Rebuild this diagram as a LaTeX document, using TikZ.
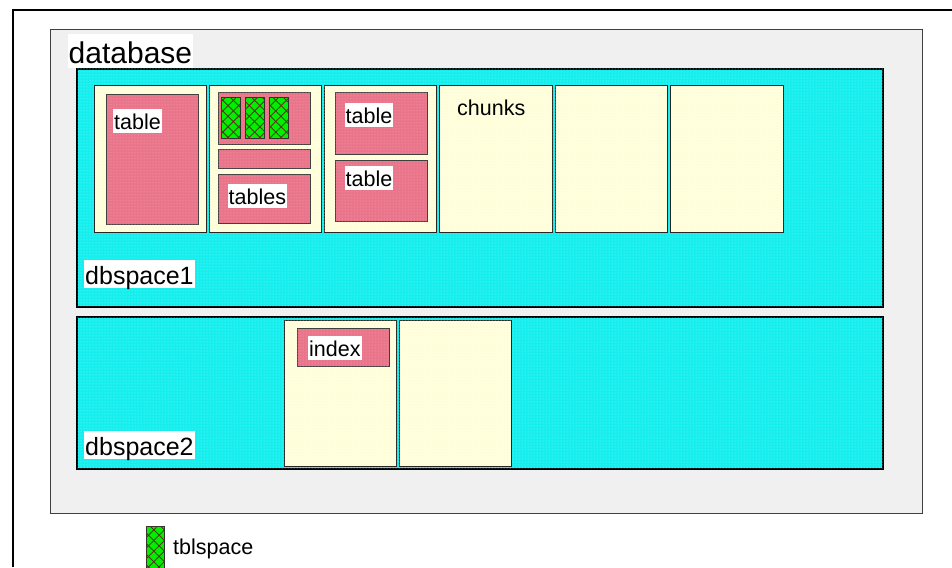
\documentclass[tikz,border=0pt]{standalone}
\usepackage{fontspec}
\setmainfont{Liberation Sans}
\usetikzlibrary{patterns,patterns.meta}
\definecolor{dbgray}{RGB}{240,240,240}
\definecolor{dscyan}{RGB}{22,238,238}
\definecolor{dsdot}{RGB}{120,250,250}
\definecolor{chunky}{RGB}{255,255,224}
\definecolor{chunkdot}{RGB}{250,245,170}
\definecolor{tpink}{RGB}{234,116,138}
\definecolor{pinkdot}{RGB}{245,170,185}
\definecolor{tgreen}{RGB}{0,240,0}
\definecolor{hatch}{RGB}{85,55,25}
\tikzset{
  dbbox/.style={draw=black!75, line width=1pt, fill=dbgray},
  dsbox/.style={draw=black, line width=1.4pt, fill=dscyan,
    postaction={pattern=dots, pattern color=dsdot}},
  chunkbox/.style={draw=black!85, line width=1pt, fill=chunky,
    postaction={pattern=dots, pattern color=chunkdot}},
  pinkbox/.style={draw=black!75, line width=1pt, fill=tpink,
    postaction={pattern=dots, pattern color=pinkdot}},
  tblsp/.style={draw=black!80, line width=1pt, fill=tgreen,
    postaction={pattern={Lines[angle=45,distance=7.5pt,line width=0.9pt]}, pattern color=hatch},
    postaction={pattern={Lines[angle=-45,distance=7.5pt,line width=0.9pt]}, pattern color=hatch}},
  lbl/.style={fill=white, inner xsep=1pt, inner ysep=0pt, anchor=base west,
    text height=20.5pt, text depth=3.7pt, font=\fontsize{21.5}{24}\selectfont},
  bigl/.style={lbl, text height=24pt, text depth=4pt, font=\fontsize{25}{28}\selectfont},
  hugel/.style={lbl, text height=30pt, text depth=4pt, font=\fontsize{30}{33}\selectfont},
  plain/.style={inner sep=0pt, anchor=base west, font=\fontsize{21.5}{24}\selectfont},
}
\begin{document}
\begin{tikzpicture}[x=1pt,y=-1pt]
\useasboundingbox (0,0) rectangle (952,567);
% outer frame
\draw[line width=2pt] (13,567) -- (13,10) -- (952,10);
% database
\draw[dbbox] (50,30) rectangle (922,513);
\node[hugel] (dblabel) at (67.5,64) {database};
% dbspace1
\draw[dsbox] (77,69) rectangle (883,307);
\node[bigl] (ds1label) at (84,284) {dbspace1};
% chunks of dbspace1
\draw[chunkbox] (94,86) rectangle (206,232);
\draw[chunkbox] (209,86) rectangle (321,232);
\draw[chunkbox] (324,86) rectangle (436,232);
\draw[chunkbox] (439,86) rectangle (552,232);
\draw[chunkbox] (555,86) rectangle (667,232);
\draw[chunkbox] (670,86) rectangle (783,232);
% chunk 1
\draw[pinkbox] (106,95) rectangle (198,224);
\node[lbl] (t1) at (113,129.3) {table};
% chunk 2
\draw[pinkbox] (218,93) rectangle (310,144);
\draw[tblsp] (221,98) rectangle (240,138);
\draw[tblsp] (245,98) rectangle (264,138);
\draw[tblsp] (269,98) rectangle (288,138);
\draw[pinkbox] (218,149) rectangle (310,168);
\draw[pinkbox] (218,174) rectangle (310,223);
\node[lbl] (t2) at (227.5,204) {tables};
% chunk 3
\draw[pinkbox] (335,93) rectangle (427,154);
\node[lbl] (t3) at (344.5,123.3) {table};
\draw[pinkbox] (335,160) rectangle (427,221);
\node[lbl] (t4) at (344.5,186.7) {table};
% chunk 4 label
\node[plain] (chunks) at (457,115) {chunks};
% dbspace2
\draw[dsbox] (77,317) rectangle (883,469);
\node[bigl] (ds2label) at (84,455.3) {dbspace2};
\draw[chunkbox] (284,320) rectangle (396,466);
\draw[chunkbox] (399,320) rectangle (511,466);
\draw[pinkbox] (297,328) rectangle (389,366);
\node[lbl] (idx) at (308,356) {index};
% legend
\draw[tblsp] (146,526) rectangle (164,570);
\node[plain] (legend) at (173,554) {tblspace};
\end{tikzpicture}
\end{document}
